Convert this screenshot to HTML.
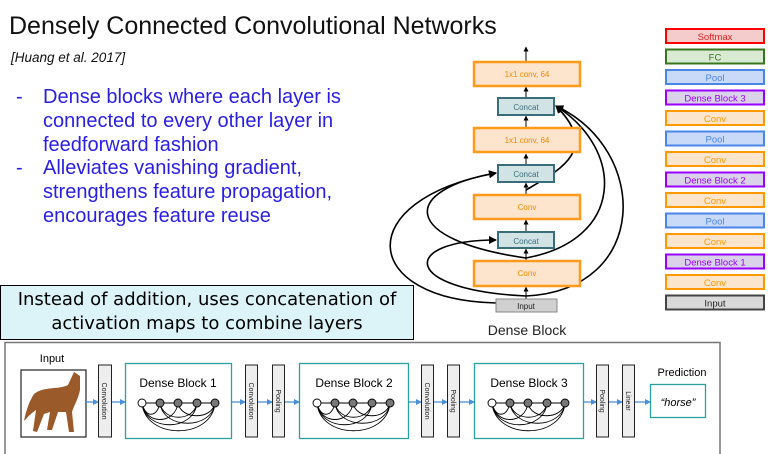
<!DOCTYPE html>
<html><head><meta charset="utf-8"><style>
html,body{margin:0;padding:0;background:#fff;width:768px;height:454px;overflow:hidden}
svg{display:block;font-family:"Liberation Sans",sans-serif}
</style></head><body>
<svg width="768" height="454" viewBox="0 0 768 454" xmlns="http://www.w3.org/2000/svg">
<defs>
<marker id="ah" markerWidth="8" markerHeight="8" refX="7" refY="4" orient="auto" markerUnits="userSpaceOnUse"><path d="M0,0 L8,4 L0,8 z" fill="#000"/></marker>
<marker id="as" markerWidth="5" markerHeight="5" refX="4.5" refY="2.5" orient="auto" markerUnits="userSpaceOnUse"><path d="M0,0 L5,2.5 L0,5 z" fill="#000"/></marker>
<marker id="ab" markerWidth="6" markerHeight="6" refX="5" refY="3" orient="auto" markerUnits="userSpaceOnUse"><path d="M0,0 L6,3 L0,6 z" fill="#4a90d9"/></marker>
</defs>
<text x="9" y="34" font-size="25" fill="#111">Densely Connected Convolutional Networks</text>
<text x="11" y="62" font-size="13.5" font-style="italic" fill="#111">[Huang et al. 2017]</text>
<g font-size="20" fill="#2a1ee6">
<text x="16" y="103">-</text><text x="43" y="103">Dense blocks where each layer is</text>
<text x="43" y="127">connected to every other layer in</text>
<text x="43" y="151">feedforward fashion</text>
<text x="16" y="174">-</text><text x="43" y="174">Alleviates vanishing gradient,</text>
<text x="43" y="198">strengthens feature propagation,</text>
<text x="43" y="222">encourages feature reuse</text>
</g>
<g fill="none" stroke="#000" stroke-width="1.6">
<path d="M496,303 C360,300 350,200 496,173" marker-end="url(#ah)"/>
<path d="M526,258 C400,240 400,190 496,173" marker-end="url(#ah)"/>
<path d="M526,296 C400,290 400,240 496,240" marker-end="url(#ah)"/>
<path d="M526,296 C650,290 650,150 556,106" marker-end="url(#ah)"/>
<path d="M526,258 C625,240 625,150 556,106" marker-end="url(#ah)"/>
<path d="M526,190 C560,170 600,150 556,106" marker-end="url(#ah)"/>
</g>
<g stroke="#000" stroke-width="1">
<line x1="526" y1="61" x2="526" y2="47" marker-end="url(#as)"/>
<line x1="526" y1="98" x2="526" y2="87" marker-end="url(#as)"/>
<line x1="526" y1="127" x2="526" y2="116" marker-end="url(#as)"/>
<line x1="526" y1="165" x2="526" y2="154" marker-end="url(#as)"/>
<line x1="526" y1="194" x2="526" y2="183" marker-end="url(#as)"/>
<line x1="526" y1="232" x2="526" y2="220" marker-end="url(#as)"/>
<line x1="526" y1="261" x2="526" y2="249" marker-end="url(#as)"/>
<line x1="526" y1="299" x2="526" y2="287" marker-end="url(#as)"/>
</g>
<g font-size="8" text-anchor="middle">
<rect x="474" y="62" width="106" height="24" fill="#fde4cc" stroke="#ff9a1a" stroke-width="2.5"/><text x="527" y="77" fill="#f08a00">1x1 conv, 64</text>
<rect x="498" y="98" width="56" height="17" fill="#d2e3e6" stroke="#3a6e7a" stroke-width="2"/><text x="526" y="110" fill="#3a6e7a">Concat</text>
<rect x="474" y="128" width="106" height="24" fill="#fde4cc" stroke="#ff9a1a" stroke-width="2.5"/><text x="527" y="143" fill="#f08a00">1x1 conv, 64</text>
<rect x="498" y="165" width="56" height="17" fill="#d2e3e6" stroke="#3a6e7a" stroke-width="2"/><text x="526" y="177" fill="#3a6e7a">Concat</text>
<rect x="474" y="195" width="106" height="24" fill="#fde4cc" stroke="#ff9a1a" stroke-width="2.5"/><text x="527" y="210" fill="#f08a00">Conv</text>
<rect x="498" y="232" width="56" height="16" fill="#d2e3e6" stroke="#3a6e7a" stroke-width="2"/><text x="526" y="244" fill="#3a6e7a">Concat</text>
<rect x="474" y="261" width="106" height="25" fill="#fde4cc" stroke="#ff9a1a" stroke-width="2.5"/><text x="527" y="276" fill="#f08a00">Conv</text>
<rect x="496" y="299" width="61" height="13" fill="#d0d0d0" stroke="#888" stroke-width="1"/><text x="526" y="309" fill="#222">Input</text>
</g>
<text x="527" y="335" font-size="14" text-anchor="middle" fill="#222">Dense Block</text>
<g font-size="9.5" text-anchor="middle">
<rect x="666" y="29" width="98" height="14" fill="#f4cccc" stroke="#ff0000" stroke-width="2"/><text x="715" y="40" fill="#e02020">Softmax</text>
<rect x="666" y="49.5" width="98" height="14" fill="#d9ead3" stroke="#38761d" stroke-width="2"/><text x="715" y="60.5" fill="#38761d">FC</text>
<rect x="666" y="70" width="98" height="14" fill="#c9daf8" stroke="#4a86e8" stroke-width="2"/><text x="715" y="81" fill="#4a86e8">Pool</text>
<rect x="666" y="90.5" width="98" height="14" fill="#d9d2e9" stroke="#9900ff" stroke-width="2"/><text x="715" y="101.5" fill="#9900ff">Dense Block 3</text>
<rect x="666" y="111" width="98" height="14" fill="#fce5cd" stroke="#ff9900" stroke-width="2"/><text x="715" y="122" fill="#ff9900">Conv</text>
<rect x="666" y="131.5" width="98" height="14" fill="#c9daf8" stroke="#4a86e8" stroke-width="2"/><text x="715" y="142.5" fill="#4a86e8">Pool</text>
<rect x="666" y="152" width="98" height="14" fill="#fce5cd" stroke="#ff9900" stroke-width="2"/><text x="715" y="163" fill="#ff9900">Conv</text>
<rect x="666" y="172.5" width="98" height="14" fill="#d9d2e9" stroke="#9900ff" stroke-width="2"/><text x="715" y="183.5" fill="#9900ff">Dense Block 2</text>
<rect x="666" y="193" width="98" height="14" fill="#fce5cd" stroke="#ff9900" stroke-width="2"/><text x="715" y="204" fill="#ff9900">Conv</text>
<rect x="666" y="213.5" width="98" height="14" fill="#c9daf8" stroke="#4a86e8" stroke-width="2"/><text x="715" y="224.5" fill="#4a86e8">Pool</text>
<rect x="666" y="234" width="98" height="14" fill="#fce5cd" stroke="#ff9900" stroke-width="2"/><text x="715" y="245" fill="#ff9900">Conv</text>
<rect x="666" y="254.5" width="98" height="14" fill="#d9d2e9" stroke="#9900ff" stroke-width="2"/><text x="715" y="265.5" fill="#9900ff">Dense Block 1</text>
<rect x="666" y="275" width="98" height="14" fill="#fce5cd" stroke="#ff9900" stroke-width="2"/><text x="715" y="286" fill="#ff9900">Conv</text>
<rect x="666" y="295.5" width="98" height="14" fill="#d9d9d9" stroke="#444" stroke-width="2"/><text x="715" y="306.5" fill="#222">Input</text>
</g>
<rect x="0.5" y="285.5" width="413" height="54" fill="#dcf3f8" stroke="#000" stroke-width="1"/>
<g font-family="'DejaVu Sans',sans-serif" font-size="18" text-anchor="middle" fill="#000">
<text x="207" y="305">Instead of addition, uses concatenation of</text>
<text x="207" y="329">activation maps to combine layers</text>
</g>
<rect x="5" y="342.5" width="715" height="115" fill="#fff" stroke="#777" stroke-width="1.5"/>
<text x="52" y="362" font-size="11" text-anchor="middle" fill="#000">Input</text>
<rect x="21" y="370" width="65" height="67" fill="#fff" stroke="#222" stroke-width="1.2"/>
<path d="M34,394 C44,386 58,390 68,385 L74,372 L80,376 L80,390 C78,400 74,405 72,412 L74,432 L69,432 L66,412 L58,412 L52,430 L47,430 L50,412 L44,414 L37,432 L33,431 L36,410 C30,414 27,418 24,421 C26,410 30,400 34,394 Z" fill="#9a5a2a"/>
<g fill="none" stroke="#4a90d9" stroke-width="1.3">
<line x1="86" y1="402" x2="98" y2="402" marker-end="url(#ab)"/>
<line x1="112" y1="402" x2="125" y2="402" marker-end="url(#ab)"/>
<line x1="232" y1="402" x2="245" y2="402" marker-end="url(#ab)"/>
<line x1="258" y1="402" x2="272" y2="402" marker-end="url(#ab)"/>
<line x1="285" y1="402" x2="299" y2="402" marker-end="url(#ab)"/>
<line x1="408" y1="402" x2="421" y2="402" marker-end="url(#ab)"/>
<line x1="434" y1="402" x2="447" y2="402" marker-end="url(#ab)"/>
<line x1="460" y1="402" x2="474" y2="402" marker-end="url(#ab)"/>
<line x1="583" y1="402" x2="596" y2="402" marker-end="url(#ab)"/>
<line x1="609" y1="402" x2="622" y2="402" marker-end="url(#ab)"/>
<line x1="635" y1="402" x2="650" y2="402" marker-end="url(#ab)"/>
</g>
<g fill="#eee" stroke="#222" stroke-width="1">
<rect x="98.5" y="365" width="13" height="72"/>
<rect x="245.5" y="365" width="12" height="72"/>
<rect x="272.5" y="365" width="12" height="72"/>
<rect x="421.5" y="365" width="12" height="72"/>
<rect x="447.5" y="365" width="12" height="72"/>
<rect x="596.5" y="365" width="12" height="72"/>
<rect x="622.5" y="365" width="12" height="72"/>
</g>
<g font-size="7" fill="#222" text-anchor="middle">
<text transform="translate(102,401) rotate(90)">Convolution</text>
<text transform="translate(249,401) rotate(90)">Convolution</text>
<text transform="translate(276,401) rotate(90)">Pooling</text>
<text transform="translate(425,401) rotate(90)">Convolution</text>
<text transform="translate(451,401) rotate(90)">Pooling</text>
<text transform="translate(600,401) rotate(90)">Pooling</text>
<text transform="translate(626,401) rotate(90)">Linear</text>
</g>
<g fill="#fff" stroke="#2aa0a0" stroke-width="1.3">
<rect x="125.5" y="363.5" width="106" height="75"/>
<rect x="299.5" y="363.5" width="109" height="75"/>
<rect x="474.5" y="363.5" width="109" height="75"/>
<rect x="650.5" y="384.5" width="55" height="33"/>
</g>
<g font-size="12" text-anchor="middle" fill="#000">
<text x="178" y="387">Dense Block 1</text>
<text x="354" y="387">Dense Block 2</text>
<text x="529" y="387">Dense Block 3</text>
</g>
<text x="682" y="376" font-size="11" text-anchor="middle" fill="#000">Prediction</text>
<text x="678" y="406" font-size="11" font-style="italic" text-anchor="middle" fill="#000">“horse”</text>
<g id="mg" fill="none" stroke="#000" stroke-width="0.9">
<line x1="142" y1="403" x2="215" y2="403"/>
<path d="M142,403 C145,425 175,425 178,403"/><path d="M142,403 C145,432 194,432 197,403"/><path d="M142,403 C145,440 212,440 215,403"/>
<path d="M160,403 C163,422 194,422 197,403"/><path d="M160,403 C163,430 212,430 215,403"/><path d="M178,403 C181,420 212,420 215,403"/>
<path d="M142,403 C145,418 157,418 160,403"/>
<circle cx="142" cy="403" r="4" fill="#fff"/>
<circle cx="160" cy="403" r="4" fill="#777"/><circle cx="178" cy="403" r="4" fill="#777"/>
<circle cx="197" cy="403" r="4" fill="#777"/><circle cx="215" cy="403" r="4" fill="#777"/>
</g>
<use href="#mg" transform="translate(175,0)"/>
<use href="#mg" transform="translate(350,0)"/>
</svg>
</body></html>
